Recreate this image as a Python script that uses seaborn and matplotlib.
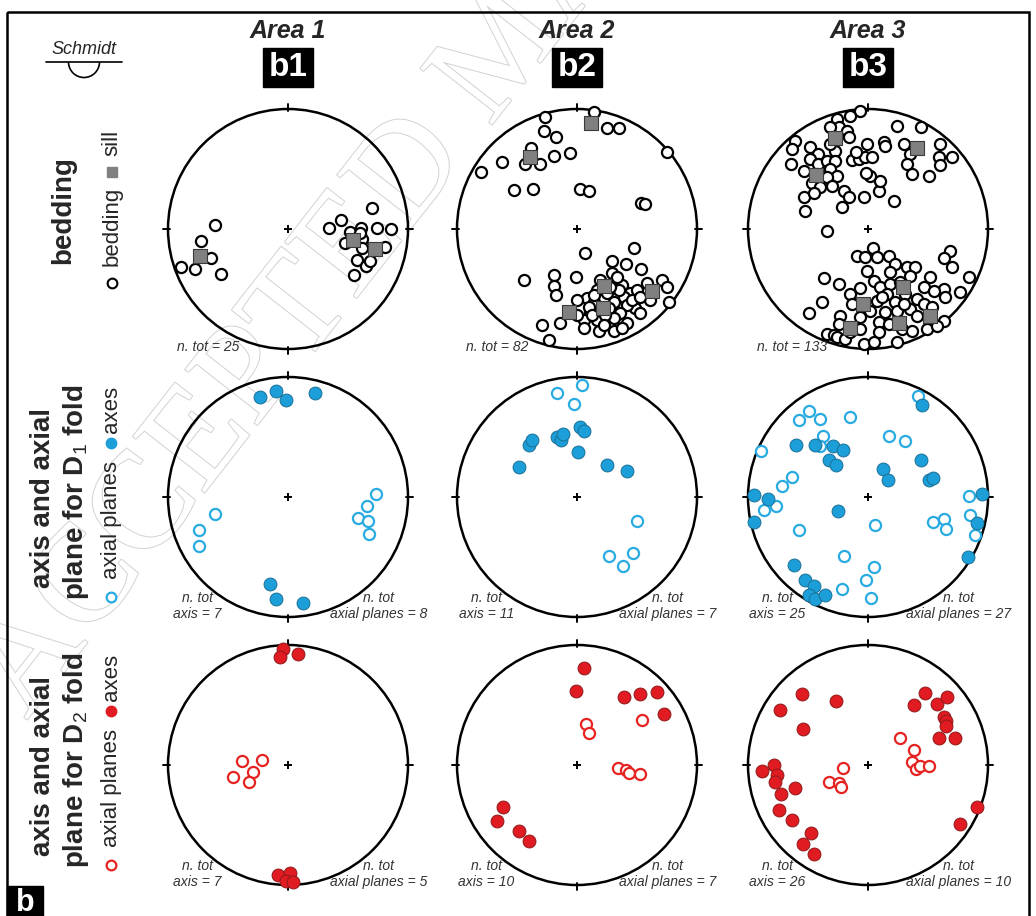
import numpy as np
import pandas as pd
import matplotlib
matplotlib.use('Agg')
import matplotlib.pyplot as plt
from matplotlib.patches import Circle, Rectangle, Arc
import matplotlib.patheffects as pe
import seaborn as sns

sns.set_style('white')
plt.rcParams['font.family'] = ['Liberation Sans', 'DejaVu Sans']
plt.rcParams['mathtext.fontset'] = 'custom'
plt.rcParams['mathtext.rm'] = 'Liberation Sans'

# poles on the Schmidt net, (east, north), primitive radius = 360
R_NET = 360

b1_bedding = [(-218, 12), (-261, -36), (-231, -88), (-320, -115), (-278, -121), (-201, -135),
              (252, 62), (160, 27), (122, 2), (185, -10), (219, 4), (267, 2), (309, -1),
              (170, -41), (222, -31), (222, -58), (292, -53), (207, -93), (235, -111),
              (247, -96), (197, -138), (217, -13)]
b1_sill = [(-265, -81), (194, -33), (262, -61)]

b2_bedding = [(-95, 335), (52, 352), (90, 302), (125, 302), (-100, 294), (-62, 277), (-138, 242),
              (-155, 195), (-112, 195), (-70, 219), (-22, 227), (-225, 200), (-288, 172),
              (-188, 117), (-132, 119), (10, 120), (35, 115), (270, 232), (192, 79), (205, 75),
              (25, -73), (170, -58), (105, -95), (148, -105), (193, -121), (-158, -153),
              (-68, -138), (-68, -171), (-62, -198), (-2, -145), (105, -131), (210, -163),
              (255, -153), (270, -175), (220, -213), (275, -218), (115, -163), (135, -168),
              (60, -183), (90, -193), (160, -193), (180, -183), (30, -206), (0, -213),
              (52, -218), (110, -218), (140, -203), (175, -238), (150, -228), (38, -248),
              (95, -238), (130, -253), (60, -273), (20, -273), (110, -268), (150, -283),
              (20, -298), (65, -306), (110, -306), (-105, -288), (-50, -283), (-85, -333),
              (35, -233), (85, -258), (50, -198), (125, -183), (100, -173), (165, -213),
              (190, -203), (45, -258), (80, -288), (135, -298), (0, -258), (70, -153),
              (120, -143), (190, -253)]
b2_sill = [(42, 319), (-140, 215), (82, -170), (78, -238), (-23, -250), (225, -185)]

b3_bedding = [(-23, 355), (-53, 340), (-93, 330), (-88, 305), (-113, 305), (-63, 295), (-58, 275),
              (-218, 265), (-228, 240), (-175, 245), (-151, 225), (-173, 210), (-230, 195),
              (-151, 195), (-123, 205), (-98, 235), (-98, 205), (-113, 180), (-93, 160),
              (-123, 155), (-168, 137), (-143, 125), (-108, 130), (-73, 115), (-58, 97),
              (-193, 95), (-163, 107), (-188, 55), (-78, 65), (-13, 95), (32, 115), (37, 143),
              (7, 160), (-48, 207), (-28, 210), (-8, 215), (12, 215), (-3, 255), (-35, 230),
              (47, 260), (52, 248), (107, 255), (87, 310), (159, 305), (127, 225), (117, 195),
              (132, 165), (182, 160), (217, 255), (212, 215), (217, 193), (252, 217), (77, 85),
              (-5, 167), (-113, 255), (-153, 165), (-193, 175), (-123, -7),
              (15, -57), (-33, -80), (-8, -85), (27, -85), (62, -80), (82, -105), (247, -65),
              (227, -87), (252, -115), (117, -115), (142, -115), (67, -130), (-3, -127),
              (17, -155), (-133, -147), (-88, -165), (-23, -177), (37, -175), (67, -165),
              (97, -160), (127, -140), (187, -145), (302, -143), (277, -190), (227, -180),
              (232, -205), (167, -175), (197, -185), (-53, -195), (-48, -225), (-138, -220),
              (-178, -253), (-83, -260), (-23, -265), (7, -245), (27, -215), (57, -195),
              (82, -220), (112, -195), (147, -210), (167, -225), (192, -235), (52, -250),
              (87, -245), (127, -240), (147, -260), (187, -265), (227, -275), (32, -280),
              (62, -285), (102, -300), (132, -305), (177, -300), (207, -290), (-88, -285),
              (-123, -315), (-103, -318), (-93, -325), (-68, -330), (-13, -345), (17, -340),
              (87, -340), (32, -310), (-23, -300), (-53, -310), (42, -205), (107, -225)]
b3_sill = [(-98, 272), (147, 243), (-155, 163), (-15, -225), (105, -173), (92, -283),
           (187, -260), (-53, -297)]

b1_d1_axes = [(-83, 300), (-35, 318), (-6, 290), (80, 313), (-53, -262), (-36, -307), (45, -317)]
b1_d1_planes = [(-220, -52), (-266, -98), (-268, -148), (264, 10), (237, -28), (209, -63),
                (239, -72), (244, -110)]
b2_d1_axes = [(-175, 90), (-145, 157), (-135, 170), (-60, 180), (-48, 172), (-43, 190),
              (10, 210), (22, 198), (2, 135), (90, 97), (149, 78)]
b2_d1_planes = [(14, 335), (-61, 313), (-10, 278), (180, -72), (97, -177), (167, -167), (137, -207)]
b3_d1_axes = [(161, 277), (-216, 155), (-160, 155), (-106, 154), (-74, 142), (-116, 110),
              (-96, 95), (46, 85), (61, 52), (160, 111), (182, 50), (196, 57), (-341, 5),
              (-301, -5), (-343, -75), (-91, -43), (-221, -205), (-188, -248), (-163, -268),
              (-176, -293), (-158, -305), (-128, -295), (341, 10), (326, -78), (301, -181)]
b3_d1_planes = [(149, 302), (-206, 232), (-178, 259), (-144, 235), (-54, 240), (-321, 139),
                (-136, 182), (-144, 152), (64, 182), (112, 167), (-229, 59), (-258, 32),
                (-311, -38), (-276, -28), (-208, -98), (21, -85), (-71, -176), (19, -211),
                (-6, -248), (-79, -276), (9, -303), (196, -75), (229, -65), (234, -95),
                (302, 2), (306, -53), (322, -115)]

b1_d2_axes = [(-16, 347), (-25, 325), (29, 333), (-30, -330), (7, -325), (-5, -347), (15, -352)]
b1_d2_planes = [(-138, 12), (-78, 15), (-105, -20), (-166, -37), (-118, -52)]
b2_d2_axes = [(22, 290), (-3, 223), (142, 205), (189, 213), (240, 220), (262, 152),
              (-223, -127), (-241, -167), (-175, -198), (-145, -228)]
b2_d2_planes = [(27, 123), (37, 97), (194, 135), (122, -10), (147, -15), (155, -23), (189, -28)]
b3_d2_axes = [(-198, 212), (-95, 192), (-265, 165), (-195, 107), (172, 217), (137, 180),
              (207, 184), (237, 204), (227, 144), (234, 132), (234, 117), (212, 80), (260, 80),
              (-318, -18), (-283, 0), (-273, -30), (-278, -50), (-218, -68), (-261, -88),
              (-268, -135), (-228, -165), (-171, -203), (-195, -236), (-161, -268),
              (277, -178), (327, -125)]
b3_d2_planes = [(-76, -10), (-116, -50), (-88, -55), (-80, -65), (95, 80), (137, 45), (132, 10),
                (144, -11), (155, -3), (184, -3)]

areas = ['Area 1', 'Area 2', 'Area 3']
panels = ['b1', 'b2', 'b3']
n_bedding = [25, 82, 133]
n_d1_axes = [7, 11, 25]
n_d1_planes = [8, 7, 27]
n_d2_axes = [7, 10, 26]
n_d2_planes = [5, 7, 10]

BLUE_FILL, BLUE_EDGE, BLUE_OPEN = '#1c9fd9', '#1b6f95', '#29abe2'
RED_FILL, RED_EDGE, RED_OPEN = '#e01b22', '#8e1a1a', '#e52421'

W, H = 1036, 916
col_x = [288, 577, 868]
row_y = [229, 497, 765]
HALF = 130

fig = plt.figure(figsize=(W / 100, H / 100), dpi=100)
ax0 = fig.add_axes([0, 0, 1, 1], zorder=0)
ax0.set_xlim(0, W)
ax0.set_ylim(H, 0)
ax0.axis('off')

# watermark
ax0.text(0, 700, 'ACCEPTED MANUSCRIPT', rotation=52, rotation_mode='anchor',
         ha='left', va='center', fontsize=100, family='Liberation Serif',
         color='white', zorder=0,
         path_effects=[pe.Stroke(linewidth=1.4, foreground='#d2d2d2'), pe.Normal()])


def pts(ax, data, **kw):
    df = pd.DataFrame(data, columns=['east', 'north'])
    sns.scatterplot(data=df, x='east', y='north', ax=ax, legend=False, zorder=3,
                    clip_on=False, **kw)


def net(cx, cy):
    ax = fig.add_axes([(cx - HALF) / W, 1 - (cy + HALF) / H, 2 * HALF / W, 2 * HALF / H], zorder=2)
    ax.patch.set_alpha(0)
    ax.add_patch(Circle((0, 0), R_NET, fill=False, lw=1.8, ec='black', zorder=1))
    for dx, dy in [(0, 1), (0, -1), (1, 0), (-1, 0)]:
        ax.plot([dx * (R_NET - 6), dx * (R_NET + 16)], [dy * (R_NET - 6), dy * (R_NET + 16)],
                color='black', lw=1.4, zorder=1)
    ax.plot([0], [0], marker='+', ms=6, mew=1.4, color='black', zorder=2)
    return ax


for j in range(3):
    cx = col_x[j]
    ax0.text(cx, 31, areas[j], ha='center', va='center', fontsize=18,
             fontweight='bold', style='italic')
    ax0.add_patch(Rectangle((cx - 25, 48), 50, 39, color='black'))
    ax0.text(cx, 68, panels[j], ha='center', va='center', fontsize=24,
             fontweight='bold', color='white')

open_kw = dict(color='white', linewidth=1.6, s=64, marker='o')
fill_kw = dict(linewidth=0.7, s=86, marker='o')

# bedding row
for j, (bed, sill) in enumerate([(b1_bedding, b1_sill), (b2_bedding, b2_sill), (b3_bedding, b3_sill)]):
    ax = net(col_x[j], row_y[0])
    pts(ax, bed, edgecolor='black', **open_kw)
    pts(ax, sill, color='#808080', edgecolor='#3a3a3a', linewidth=0.8, s=96, marker='s')
    ax.text(-333, -354, 'n. tot = %d' % n_bedding[j], ha='left', va='center',
            fontsize=10, style='italic', color='#333333')
    ax.set_xlim(-3 * HALF, 3 * HALF)
    ax.set_ylim(-3 * HALF, 3 * HALF)
    ax.axis('off')

# fold rows
fold_rows = [
    ([b1_d1_axes, b2_d1_axes, b3_d1_axes], [b1_d1_planes, b2_d1_planes, b3_d1_planes],
     n_d1_axes, n_d1_planes, BLUE_FILL, BLUE_EDGE, BLUE_OPEN),
    ([b1_d2_axes, b2_d2_axes, b3_d2_axes], [b1_d2_planes, b2_d2_planes, b3_d2_planes],
     n_d2_axes, n_d2_planes, RED_FILL, RED_EDGE, RED_OPEN),
]
for i, (axes_l, planes_l, na, npl, fc, ec, oc) in enumerate(fold_rows):
    for j in range(3):
        ax = net(col_x[j], row_y[i + 1])
        pts(ax, planes_l[j], edgecolor=oc, **open_kw)
        pts(ax, axes_l[j], color=fc, edgecolor=ec, **fill_kw)
        ax.text(-272, -327, 'n. tot\naxis = %d' % na[j], ha='center', va='center',
                fontsize=10, style='italic', color='#333333', linespacing=1.15)
        ax.text(272, -327, 'n. tot\naxial planes = %d' % npl[j], ha='center', va='center',
                fontsize=10, style='italic', color='#333333', linespacing=1.15)
        ax.set_xlim(-3 * HALF, 3 * HALF)
        ax.set_ylim(-3 * HALF, 3 * HALF)
        ax.axis('off')

# row labels
ax0.text(63, 210, 'bedding', rotation=90, ha='center', va='center', fontsize=20, fontweight='bold')
ax0.text(112, 143, 'sill', rotation=90, ha='center', va='center', fontsize=16)
ax0.plot(112, 172, marker='s', ms=7.5, color='#808080', mec='#808080')
ax0.text(112, 226, 'bedding', rotation=90, ha='center', va='center', fontsize=16)
ax0.plot(112, 283, marker='o', ms=7, mfc='white', mec='black', mew=1.5)

for i, (sub, fc, oc) in enumerate([('1', BLUE_FILL, BLUE_OPEN), ('2', RED_FILL, RED_OPEN)]):
    base = row_y[i + 1]
    ax0.text(43, base + 1, 'axis and axial', rotation=90, ha='center', va='center',
             fontsize=20, fontweight='bold')
    ax0.text(76, base - 5, 'plane for D${}_%s$ fold' % sub, rotation=90, ha='center',
             va='center', fontsize=20, fontweight='bold')
    ax0.text(111, base - 88, 'axes', rotation=90, ha='center', va='center', fontsize=16)
    ax0.plot(111, base - 54, marker='o', ms=7.5, color=fc, mec=fc)
    ax0.text(111, base + 23, 'axial planes', rotation=90, ha='center', va='center', fontsize=16)
    ax0.plot(111, base + 100, marker='o', ms=7, mfc='white', mec=oc, mew=1.6)

# Schmidt symbol
ax0.text(84, 50, 'Schmidt', ha='center', va='center', fontsize=13, style='italic')
ax0.plot([46, 122], [62, 62], color='black', lw=1.2)
ax0.add_patch(Arc((84, 62), 31, 31, theta1=0, theta2=180, color='black', lw=1.2))

# frame and panel label
ax0.add_patch(Rectangle((7, 12), 1022, 920, fill=False, lw=1.8, ec='black', zorder=5))
ax0.add_patch(Rectangle((7, 886), 36, 40, color='black', zorder=6))
ax0.text(25, 903, 'b', ha='center', va='center', fontsize=22, fontweight='bold',
         color='white', zorder=7)

fig.savefig('out.png', dpi=100)
